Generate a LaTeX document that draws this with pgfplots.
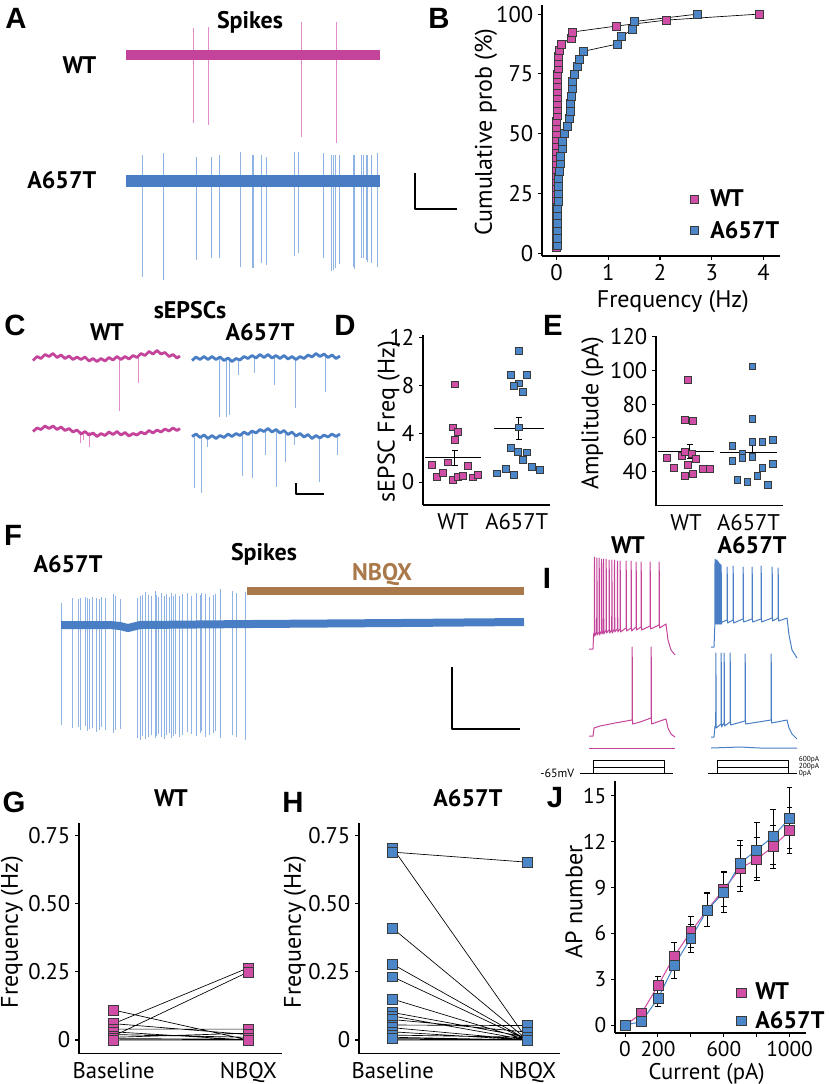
\documentclass[border=0pt]{standalone}
\usepackage{fontspec}
\setmainfont{PT Sans}[Numbers=Monospaced]
\newfontfamily\letterfont{Liberation Sans}
\usepackage{pgfplots}
\pgfplotsset{compat=1.18}
\definecolor{mag}{HTML}{D04EA5}
\definecolor{magT}{HTML}{C4449B}
\definecolor{magL}{HTML}{E48CCB}
\definecolor{blu}{HTML}{4A86C8}
\definecolor{bluT}{HTML}{4A7EC4}
\definecolor{bluL}{HTML}{8FB4E4}
\definecolor{brn}{HTML}{A9794B}
\definecolor{edge}{HTML}{3A3A3A}
\newcommand\fs[1]{\fontsize{#1}{#1}\selectfont}
\pgfplotsset{
 sci/.style={scale only axis, anchor=south west, axis x line*=bottom, axis y line*=left,
   axis line style={line width=1pt, black}, tick align=outside, major tick length=3pt,
   tick style={line width=0.8pt, black}, ticklabel style={font=\fs{17}}, label style={font=\fs{18}},
   /pgf/number format/assume math mode=true, clip=false},
 wtm/.style={only marks, mark=square*, mark options={fill=mag, draw=edge, line width=0.5pt}},
 a6m/.style={only marks, mark=square*, mark options={fill=blu, draw=edge, line width=0.5pt}},
 noxt/.style={every major x tick/.append style={draw=none}},
}
\begin{document}
\begin{tikzpicture}
\useasboundingbox (0,0) rectangle (621pt,-813pt);
\begin{scope}[x=0.75pt,y=-0.75pt]
\coordinate (pB) at (542,256);
\coordinate (pD) at (423,505);
\coordinate (pE) at (656,505.7);
\coordinate (pG) at (79,1053.6);
\coordinate (pH) at (359,1053.6);
\coordinate (pJ) at (615,1033);
\end{scope}

% ---------- traces (pixel coordinates) ----------
\begin{axis}[at={(0,0)}, anchor=north west, scale only axis, width=621pt, height=813pt,
  xmin=0, xmax=828, ymin=0, ymax=1084, y dir=reverse, hide axis, clip=false,
  unbounded coords=jump, every axis plot/.append style={no markers, line join=round}]
% A
\addplot[magL, line width=0.7pt] coordinates {(193,28)(193,123)(193,nan)(208,27)(208,125)(208,nan)(301,22)(301,137)(301,nan)(336,22)(336,143)};
\addplot[magT, line width=7.5pt] coordinates {(126,55)(380,55)};
\addplot[bluL, line width=0.7pt] coordinates {(142,155)(142,277)(142,nan)(163,153)(163,280)(163,nan)(196,157)(196,260)(196,nan)(211,157)(211,258)(211,nan)(219,155)(219,258)(219,nan)(240,152)(240,267)(240,nan)(252,155)(252,268)(252,nan)(253.5,155)(253.5,268)(253.5,nan)(261,155)(261,263)(261,nan)(266,157)(266,265)(266,nan)(294,152)(294,256)(294,nan)(298,152)(298,253)(298,nan)(323,153)(323,258)(323,nan)(331,155)(331,271)(331,nan)(333,155)(333,270)(333,nan)(335,155)(335,268)(335,nan)(339,155)(339,264)(339,nan)(353,155)(353,267)(353,nan)(354.5,155)(354.5,269)(354.5,nan)(361,155)(361,258)(361,nan)(363,155)(363,258)(363,nan)(366,155)(366,260)(366,nan)(367.5,155)(367.5,262)(367.5,nan)(371,155)(371,263)(371,nan)(377,153)(377,267)};
\addplot[bluT, line width=9pt] coordinates {(126,181)(380,181)};
\addplot[black, line width=1.1pt] coordinates {(415,173)(415,209)(457,209)};
% C
\addplot[magL, line width=0.7pt] coordinates {(119,358)(119,411)(119,nan)(138,357)(138,383)(138,nan)(80,431)(80,443)(80,nan)(83,431)(83,440)(83,nan)(89,432)(89,447)};
\addplot[magT, line width=2.1pt] coordinates {(33,360.5)(37,356.5)(41,358.5)(45,354.5)(49,356.5)(53,353.5)(57,357.5)(61,355)(65,358.5)(69,356)(73,359.5)(77,357)(81,359.5)(85,357)(89,361)(93,358.5)(97,361.5)(101,358.5)(105,361)(109,357.5)(113,360)(117,356.5)(121,359.5)(125,356.5)(129,359)(133,355.5)(137,357.5)(141,353.5)(145,355.5)(149,351.5)(153,354)(157,350.5)(161,354)(165,352.5)(169,356.5)(173,354.5)(177,358)(180,356)};
\addplot[magT, line width=2.1pt] coordinates {(33,431.5)(37,428)(41,429.5)(45,426)(49,428.5)(53,426)(57,429.5)(61,427)(65,430.5)(69,428.5)(73,432)(77,430)(81,434)(85,431.5)(89,435)(93,433)(97,436.5)(101,433.5)(105,435.5)(109,432)(113,434.5)(117,431.5)(121,435)(125,432.5)(129,436)(133,433.5)(137,435)(141,432)(145,434)(149,430.5)(153,433)(157,430)(161,432)(165,429)(169,431)(173,428)(177,430.5)(180,428.5)};
\addplot[bluL, line width=0.7pt] coordinates {(219,358)(219,417)(219,nan)(226,358)(226,417)(226,nan)(229,359)(229,415)(229,nan)(238,359)(238,375)(238,nan)(254,357)(254,373)(254,nan)(274,357)(274,385)(274,nan)(295,358)(295,408)(295,nan)(325,356)(325,392)(325,nan)(194,435)(194,488)(194,nan)(201,436)(201,493)(201,nan)(207,437)(207,447)(207,nan)(242,434)(242,476)(242,nan)(252,433)(252,478)(252,nan)(265,430)(265,455)(265,nan)(276,431)(276,487)(276,nan)(285,432)(285,462)(285,nan)(294,434)(294,445)(294,nan)(319,437)(319,482)(319,nan)(337,435)(337,455)};
\addplot[bluT, line width=2.1pt] coordinates {(192,360.5)(196,357)(200,359.5)(204,356.5)(208,359.5)(212,356.5)(216,359.5)(220,357)(224,360.5)(228,358)(232,361.5)(236,358.5)(240,360)(244,356.5)(248,358.5)(252,355.5)(256,358)(260,354.5)(264,357.5)(268,354.5)(272,358)(276,355.5)(280,358.5)(284,355.5)(288,359)(292,356.5)(296,359.5)(300,356.5)(304,358.5)(308,355)(312,357)(316,353.5)(320,356.5)(324,354)(328,357.5)(332,355)(336,358.5)(340,356)};
\addplot[bluT, line width=2.1pt] coordinates {(192,436.5)(196,434)(200,437.5)(204,435)(208,438.5)(212,435.5)(216,438.5)(220,435.5)(224,437.5)(228,434)(232,436.5)(236,433.5)(240,435.5)(244,432)(248,434.5)(252,431)(256,433)(260,429.5)(264,431.5)(268,428.5)(272,432)(276,429.5)(280,433)(284,430.5)(288,434.5)(292,432)(296,436)(300,433.5)(304,437)(308,434.5)(312,438.5)(316,435.5)(320,438)(324,435)(328,437)(332,434)(336,436.5)(340,434)};
\addplot[black, line width=1.1pt] coordinates {(296,483)(296,494)(324,494)};
% F
\addplot[bluL, line width=0.7pt] coordinates {(61,603)(61,725)(61,nan)(72.7,598)(72.7,728)(72.7,nan)(78.3,599)(78.3,727)(78.3,nan)(80.7,598)(80.7,730)(80.7,nan)(85.3,597)(85.3,726)(85.3,nan)(87.3,598)(87.3,731)(87.3,nan)(89.3,599)(89.3,729)(89.3,nan)(92.7,597)(92.7,728)(92.7,nan)(96.7,598)(96.7,732)(96.7,nan)(99,599)(99,730)(99,nan)(101.7,597)(101.7,727)(101.7,nan)(105,598)(105,730)(105,nan)(113.3,594)(113.3,733)(113.3,nan)(115.7,596)(115.7,730)(115.7,nan)(120,599)(120,729)(120,nan)(137.7,598)(137.7,738)(137.7,nan)(140,596)(140,740)(140,nan)(142.7,595)(142.7,736)(142.7,nan)(145.3,592)(145.3,739)(145.3,nan)(148.3,595)(148.3,737)(148.3,nan)(151.7,596)(151.7,735)(151.7,nan)(155,591)(155,738)(155,nan)(156.7,595)(156.7,736)(156.7,nan)(158.7,597)(158.7,734)(158.7,nan)(161.7,593)(161.7,737)(161.7,nan)(164.3,596)(164.3,739)(164.3,nan)(166.7,594)(166.7,735)(166.7,nan)(169.3,597)(169.3,733)(169.3,nan)(171.7,593)(171.7,738)(171.7,nan)(173.3,596)(173.3,736)(173.3,nan)(175.7,594)(175.7,734)(175.7,nan)(179.3,596)(179.3,737)(179.3,nan)(182.7,594)(182.7,735)(182.7,nan)(187.3,593)(187.3,732)(187.3,nan)(191.7,596)(191.7,734)(191.7,nan)(196.7,593)(196.7,736)(196.7,nan)(200,595)(200,733)(200,nan)(201.7,593)(201.7,731)(201.7,nan)(205.7,594)(205.7,737)(205.7,nan)(209,597)(209,735)(209,nan)(213.3,595)(213.3,733)(213.3,nan)(215,594)(215,731)(215,nan)(220.7,589)(220.7,738)(220.7,nan)(232.7,591)(232.7,735)(232.7,nan)(236,593)(236,737)(236,nan)(245,592)(245,740)};
\addplot[bluT, line width=6pt] coordinates {(61,625)(110,625)(120,626)(128,628)(134,626.5)(140,625)(250,624)(400,623)(524,622)};
\addplot[brn, line width=5.5pt] coordinates {(247,591)(524,591)};
\addplot[black, line width=1.1pt] coordinates {(452,667)(452,729)(520,729)};
% I
\addplot[magT, line width=0.75pt] coordinates {(589,649)(593,649)(593.6,634)(594.3,633)(594.5,557)(594.8,636)(596.7,632)(596.9,558)(597.2,635)(599,632)(599.2,558)(599.5,635)(601.3,631)(601.5,559)(601.8,634)(603.3,631)(603.5,559)(603.8,634)(606,630)(606.2,559)(606.5,633)(609,630)(609.2,560)(609.5,633)(611.7,630)(611.9,560)(612.2,633)(614.3,629)(614.5,560)(614.8,632)(617.3,629)(617.5,561)(617.8,632)(620,629)(620.2,561)(620.5,632)(626,628)(626.2,561)(626.5,631)(631,628)(631.2,561)(631.5,631)(636,627)(636.2,562)(636.5,630)(641,627)(641.2,562)(641.5,630)(650,626)(650.2,562)(650.5,629)(659,625)(659.2,562)(659.5,628)(666,624)(668,640)(671,650)(675,655)};
\addplot[magT, line width=0.75pt] coordinates {(589,736)(593,736)(594,728)(600,726)(615,723)(632,720)(632.2,647)(632.5,724)(640,722)(651,718)(651.2,647)(651.5,724)(660,721)(666,719)(668,728)(671,734)(675,737)};
\addplot[magT, line width=0.75pt] coordinates {(589,748)(675,748)};
\addplot[bluT, line width=0.75pt] coordinates {(711,647)(714,647)(714.8,626)(715,559)(715.3,624)(715.8,622)(716,560)(716.3,624)(716.6,622)(716.8,560)(717.1,624)(717.4,622)(717.6,561)(717.9,624)(718.2,622)(718.4,562)(718.7,624)(719,622)(719.2,563)(719.5,624)(720,622)(720.2,564)(720.5,624)(721,622)(721.2,565)(721.5,624)(722,622)(727,620)(727.2,567)(727.5,623)(733,620)(733.2,566)(733.5,623)(743,619)(743.2,567)(743.5,622)(752,619)(752.2,567)(752.5,622)(761,619)(761.2,566)(761.5,622)(772,618)(772.2,567)(772.5,621)(778,618)(778.2,568)(778.5,621)(787,618)(789,635)(792,650)(797,658)};
\addplot[bluT, line width=0.75pt] coordinates {(711,737)(714,737)(715,726)(715.7,726)(715.9,653)(716.2,728)(721,724)(721.2,653)(721.5,727)(724,723)(724.2,653)(724.5,726)(730,722)(730.2,653)(730.5,725)(745,721)(745.2,654)(745.5,724)(771,720)(771.2,654)(771.5,723)(787,720)(789,728)(792,734)(797,739)};
\addplot[bluT, line width=0.75pt] coordinates {(711,748)(740,747)(760,748)(797,748)};
% protocol
\addplot[black, line width=0.7pt] coordinates {(580,773)(673,773)(673,nan)(593,773)(593,760)(664,760)(664,773)(664,nan)(593,767)(664,767)};
\addplot[black, line width=0.7pt] coordinates {(708,773)(797,773)(797,nan)(717,773)(717,760)(788,760)(788,773)(788,nan)(717,767)(788,767)};
\end{axis}

% ---------- B ----------
\begin{axis}[sci, at={(pB)}, width=178.5pt, height=188.25pt, xmin=-0.28, xmax=4.32, ymin=-1.2, ymax=103.8,
  xtick={0,1,2,3,4}, ytick={0,25,50,75,100}, xlabel={Frequency (Hz)}, ylabel={Cumulative prob (\%)},
  xlabel style={at={(axis description cs:0.55,-0.18)},anchor=center},
  ylabel style={at={(axis description cs:-0.235,0.494)},anchor=center},
  legend style={at={(axis description cs:0.605,0.285)}, anchor=north west, draw=none, fill=none, font=\fs{18}\bfseries, row sep=5pt,
    /tikz/every odd column/.append style={column sep=7pt}},
  legend cell align=left]
\addplot[black, line width=0.5pt, mark=square*, mark size=3pt, mark options={fill=mag, draw=edge, line width=0.5pt}, forget plot] coordinates {
(0,2.5)(0,5)(0,7.5)(0,10)(0,12.5)(0,15)(0,17.5)(0,20)(0,22.5)(0,25)(0,27.5)(0,30)(0,32.5)(0,35)(0,37.5)(0,40)(0,42.5)(0,45)
(0.005,47.5)(0.005,50)(0.005,52.5)(0.005,55)(0.01,57.5)(0.01,60)(0.01,62.5)(0.01,65)(0.02,67.5)(0.02,70)(0.02,72.5)(0.02,75)
(0.03,77.5)(0.03,80)(0.04,82.5)(0.05,85)(0.10,87.5)(0.28,90)(0.31,92.5)(1.16,95)(2.13,97.5)(3.92,100)};
\addplot[black, line width=0.5pt, mark=square*, mark size=3pt, mark options={fill=blu, draw=edge, line width=0.5pt}, forget plot] coordinates {
(0.02,3.125)(0.02,6.25)(0.02,9.375)(0.02,12.5)(0.02,15.625)(0.02,18.75)(0.03,21.875)(0.03,25)(0.04,28.125)(0.04,31.25)
(0.06,34.375)(0.08,37.5)(0.08,40.625)(0.11,43.75)(0.12,46.875)(0.16,50)(0.21,53.125)(0.24,56.25)(0.26,59.375)(0.26,62.5)
(0.29,65.625)(0.31,68.75)(0.31,71.875)(0.34,75)(0.41,78.125)(0.44,81.25)(0.51,84.375)(1.18,87.5)(1.26,90.625)(1.47,93.75)(1.50,96.875)(2.73,100)};
\addlegendimage{wtm, mark size=3pt}\addlegendentry{WT}
\addlegendimage{a6m, mark size=3pt}\addlegendentry{A657T}
\end{axis}

% ---------- D ----------
\begin{axis}[sci, noxt, at={(pD)}, width=95.25pt, height=127.5pt, xmin=-0.47, xmax=1.52, ymin=-1.9, ymax=12.17,
  xtick={0,1}, xticklabels={WT,A657T}, ytick={0,4,8,12}, ylabel={sEPSC Freq (Hz)},
  ylabel style={at={(axis description cs:-0.27,0.49)},anchor=center}]
\addplot[wtm, mark size=2.6pt] coordinates {(-0.33,1.46)(-0.25,0.44)(-0.16,0.77)(-0.08,1.63)(0,0.19)(0.08,0.41)(0.16,0.5)(0.23,1.32)(0.31,0.39)(0.39,0.58)(0,4.53)(0.08,4.17)(0.03,3.48)(0.03,8.09)};
\addplot[a6m, mark size=2.6pt] coordinates {(0.69,0.72)(0.83,1.08)(0.95,0.58)(0.91,2.87)(1.02,2.51)(1.16,2.46)(1.09,1.82)(1.23,1.27)(1.36,0.99)(1.03,4.53)(0.91,8.86)(1.16,8.86)(1.03,8.17)(0.95,7.95)(1.09,7.43)(1.03,10.87)};
\addplot[black, line width=0.6pt] coordinates {(-0.44,2.0)(0.44,2.0)};
\addplot[black, line width=0.6pt] coordinates {(0.64,4.44)(1.42,4.44)};
\addplot[draw=none, mark=none, error bars/.cd, y dir=both, y explicit, error bar style={black, line width=0.7pt}, error mark options={black, rotate=90, mark size=2.3pt, line width=0.7pt}] coordinates {(0.03,1.975) +- (0,0.625) (1.03,4.455) +- (0,0.895)};
\end{axis}

% ---------- E ----------
\begin{axis}[sci, noxt, at={(pE)}, width=95.25pt, height=127.3pt, xmin=-0.48, xmax=1.55, ymin=19.8, ymax=120.5,
  xtick={0,1}, xticklabels={WT,A657T}, ytick={40,60,80,100,120}, ylabel={Amplitude (pA)},
  ylabel style={at={(axis description cs:-0.50,0.545)},anchor=center}]
\addplot[wtm, mark size=2.6pt] coordinates {(-0.30,48.3)(-0.19,42.0)(-0.06,49.3)(-0.02,37.4)(-0.02,51.9)(-0.02,70.8)(0.03,44.0)(0.03,94.2)(0.10,50.5)(0.11,38.6)(0.16,47.6)(0.11,70.2)(0.27,41.6)(0.38,41.4)};
\addplot[a6m, mark size=2.6pt] coordinates {(0.74,55.5)(0.74,46.5)(0.82,35.1)(0.90,50.5)(0.90,48.3)(0.98,34.0)(1.06,57.9)(1.06,71.2)(1.06,49.0)(1.06,102.5)(1.14,37.6)(1.22,57.9)(1.22,42.4)(1.30,32.1)(1.38,58.9)(1.38,44.6)};
\addplot[black, line width=0.6pt] coordinates {(-0.45,51.9)(0.45,51.9)};
\addplot[black, line width=0.6pt] coordinates {(0.54,51.5)(1.46,51.5)};
\addplot[draw=none, mark=none, error bars/.cd, y dir=both, y explicit, error bar style={black, line width=0.7pt}, error mark options={black, rotate=90, mark size=2.3pt, line width=0.7pt}] coordinates {(0.06,52.15) +- (0,4.15) (1.06,51.65) +- (0,4.25)};
\end{axis}

% ---------- G ----------
\begin{axis}[sci, noxt, at={(pG)}, width=152.25pt, height=172.95pt, xmin=-0.257, xmax=1.25, ymin=-0.05, ymax=0.797,
  xtick={0,1}, xticklabels={Baseline,NBQX}, ytick={0,0.25,0.5,0.75}, yticklabels={0,0.25,0.50,0.75},
  ylabel={Frequency (Hz)}, ylabel style={at={(axis description cs:-0.33,0.527)},anchor=center},
  title={WT}, title style={at={(axis description cs:0.453,1.074)},anchor=center,font=\fs{18}\bfseries}]
\addplot[black, line width=0.5pt, unbounded coords=jump] coordinates {(0,0.11)(1,0)(1,nan)(0,0.06)(1,0.265)(1,nan)(0,0.015)(1,0.25)(1,nan)(0,0.04)(1,0.04)(1,nan)(0,0.06)(1,0.02)(1,nan)(0,0.03)(1,0)(1,nan)(0,0.02)(1,0.01)(1,nan)(0,0.01)(1,0.025)(1,nan)(0,0)(1,0)(1,nan)(0,0.005)(1,0.003)};
\addplot[wtm, mark size=3.7pt] coordinates {(0,0.11)(0,0.06)(0,0.04)(0,0.03)(0,0.015)(0,0.005)(0,0)(1,0.265)(1,0.25)(1,0.04)(1,0.02)(1,0.005)(1,0)};
\end{axis}

% ---------- H ----------
\begin{axis}[sci, noxt, at={(pH)}, width=150.75pt, height=172.95pt, xmin=-0.25, xmax=1.24, ymin=-0.05, ymax=0.797,
  xtick={0,1}, xticklabels={Baseline,NBQX}, ytick={0,0.25,0.5,0.75}, yticklabels={0,0.25,0.50,0.75},
  ylabel={Frequency (Hz)}, ylabel style={at={(axis description cs:-0.318,0.527)},anchor=center},
  title={A657T}, title style={at={(axis description cs:0.542,1.074)},anchor=center,font=\fs{18}\bfseries}]
\addplot[black, line width=0.5pt, unbounded coords=jump] coordinates {(0,0.69)(1,0.653)(1,nan)(0,0.705)(1,0)(1,nan)(0,0.41)(1,0)(1,nan)(0,0.278)(1,0)(1,nan)(0,0.232)(1,0)(1,nan)(0,0.15)(1,0)(1,nan)(0,0.101)(1,0.01)(1,nan)(0,0.088)(1,0)(1,nan)(0,0.075)(1,0.029)(1,nan)(0,0.055)(1,0.053)(1,nan)(0,0.045)(1,0)(1,nan)(0,0.03)(1,0)(1,nan)(0,0.018)(1,0.01)(1,nan)(0,0.01)(1,0)(1,nan)(0,0.005)(1,0)(1,nan)(0,0)(1,0)};
\addplot[a6m, mark size=3.7pt] coordinates {(0,0.705)(0,0.69)(0,0.41)(0,0.278)(0,0.232)(0,0.15)(0,0.101)(0,0.088)(0,0.075)(0,0.055)(0,0.045)(0,0.03)(0,0.018)(0,0.005)(1,0.653)(1,0.053)(1,0.029)(1,0.01)(1,0)};
\end{axis}

% ---------- J ----------
\begin{axis}[sci, at={(pJ)}, width=143.25pt, height=189pt, xmin=-61, xmax=1100, ymin=-0.5, ymax=15.96,
  xtick={0,200,400,600,800,1000}, xticklabels={0,200,{},600,{},1000}, ytick={0,3,6,9,12,15},
  ticklabel style={font=\fs{16}}, xlabel style={font=\fs{17}},
  xlabel={Current (pA)}, ylabel={AP number},
  xlabel style={at={(axis description cs:0.48,-0.162)},anchor=center},
  ylabel style={at={(axis description cs:-0.215,0.52)},anchor=center},
  legend style={at={(axis description cs:0.615,0.22)}, anchor=north west, draw=none, fill=none, font=\fs{18}\bfseries, row sep=3pt,
    /tikz/every odd column/.append style={column sep=5pt}},
  legend cell align=left]
\addplot[mag, line width=0.8pt, mark=square*, mark size=3.7pt, mark options={fill=mag, draw=edge, line width=0.5pt}, forget plot,
  error bars/.cd, y dir=both, y explicit, error bar style={black, line width=0.7pt}, error mark options={black, rotate=90, mark size=2.2pt, line width=0.7pt}]
  coordinates {(0,0) +- (0,0) (100,0.78) +- (0,0.25) (200,2.59) +- (0,0.6) (300,4.53) +- (0,0.9) (400,6.12) +- (0,1.0) (500,7.55) +- (0,1.1) (600,8.89) +- (0,1.15) (700,10.26) +- (0,1.5) (800,10.85) +- (0,1.4) (900,11.67) +- (0,1.4) (1000,12.72) +- (0,1.5)};
\addplot[blu, line width=0.8pt, mark=square*, mark size=3.7pt, mark options={fill=blu, draw=edge, line width=0.5pt}, forget plot,
  error bars/.cd, y dir=both, y explicit, error bar style={black, line width=0.7pt}, error mark options={black, rotate=90, mark size=2.2pt, line width=0.7pt}]
  coordinates {(0,0.02) +- (0,0) (100,0.24) +- (0,0.25) (200,1.76) +- (0,0.5) (300,3.94) +- (0,0.85) (400,5.69) +- (0,0.9) (500,7.54) +- (0,1.1) (600,8.69) +- (0,1.3) (700,10.59) +- (0,1.5) (800,11.46) +- (0,1.78) (900,12.33) +- (0,1.8) (1000,13.53) +- (0,2.0)};
\addlegendimage{wtm, mark size=3.5pt}\addlegendentry{WT}
\addlegendimage{a6m, mark size=3.5pt}\addlegendentry{A657T}
\end{axis}

% ---------- text ----------
\begin{scope}[x=0.75pt,y=-0.75pt]
\tikzset{lt/.style={font=\letterfont\bfseries\fs{22}}, tt/.style={font=\bfseries\fs{18}}}
\node[lt] at (16,18) {A};
\node[lt] at (439,18) {B};
\node[lt] at (15,325) {C};
\node[lt] at (345,325) {D};
\node[lt] at (553,325) {E};
\node[lt] at (13,535) {F};
\node[lt] at (547,578) {I};
\node[lt] at (14,802) {G};
\node[lt] at (293,802) {H};
\node[lt] at (555,798) {J};
\node[tt] at (250,22) {Spikes};
\node[tt, anchor=east] at (101,65) {WT};
\node[tt, anchor=east] at (101,180) {A657T};
\node[tt] at (190,310) {sEPSCs};
\node[tt] at (107,332) {WT};
\node[tt] at (260,332) {A657T};
\node[tt] at (68,564) {A657T};
\node[tt] at (264,554) {Spikes};
\node[tt, text=brn] at (382,575) {NBQX};
\node[tt] at (628,545) {WT};
\node[tt] at (752,545) {A657T};
\node[font=\fs{9}, anchor=east] at (579,773) {-65mV};
\node[font=\fs{5.5}, anchor=west, inner sep=0.5pt] at (798,760) {600pA};
\node[font=\fs{5.5}, anchor=west, inner sep=0.5pt] at (798,767) {200pA};
\node[font=\fs{5.5}, anchor=west, inner sep=0.5pt] at (798,774) {0pA};
\end{scope}
\end{tikzpicture}
\end{document}
